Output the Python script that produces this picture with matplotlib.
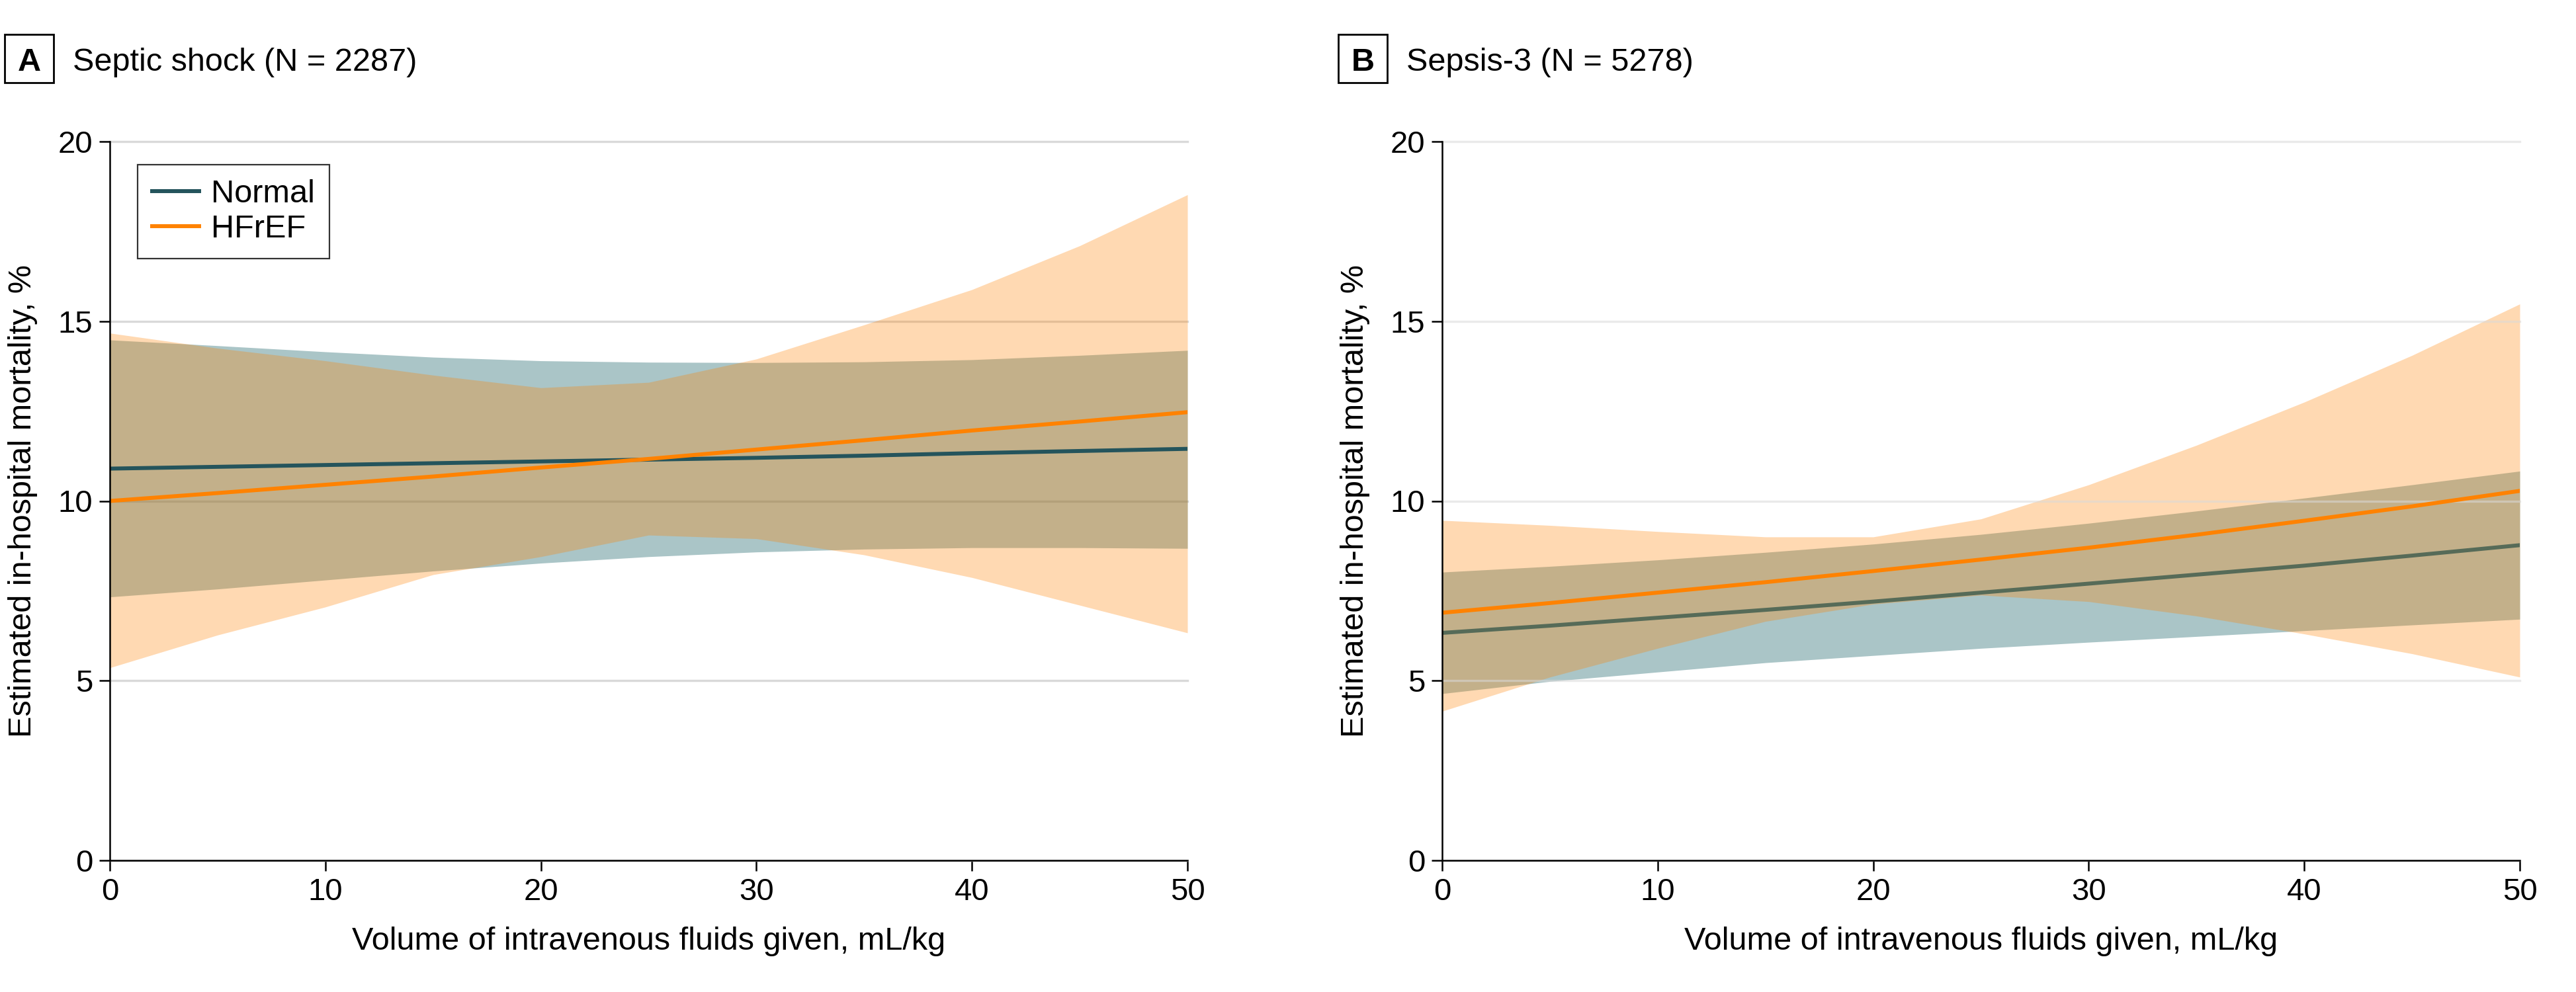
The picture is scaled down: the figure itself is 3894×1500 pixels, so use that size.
import numpy as np
import matplotlib
matplotlib.use("Agg")
import matplotlib.pyplot as plt
from matplotlib.patches import Rectangle

plt.rcParams['font.family'] = ['Liberation Sans', 'DejaVu Sans']

# fluid volume, mL/kg
volume = [0, 5, 10, 15, 20, 25, 30, 35, 40, 45, 50]

# Panel A: septic shock
normal_a = [10.9, 10.95, 11.0, 11.05, 11.1, 11.15, 11.2, 11.26, 11.33, 11.39, 11.45]
normal_a_lo = [7.33, 7.55, 7.8, 8.05, 8.27, 8.45, 8.58, 8.66, 8.7, 8.7, 8.68]
normal_a_hi = [14.48, 14.32, 14.15, 14.0, 13.9, 13.86, 13.85, 13.87, 13.93, 14.05, 14.19]
hfref_a = [10.0, 10.22, 10.45, 10.68, 10.93, 11.17, 11.43, 11.69, 11.96, 12.21, 12.47]
hfref_a_lo = [5.36, 6.27, 7.05, 7.95, 8.45, 9.05, 8.95, 8.5, 7.87, 7.1, 6.33]
hfref_a_hi = [14.67, 14.25, 13.9, 13.5, 13.15, 13.3, 13.95, 14.9, 15.88, 17.1, 18.52]

# Panel B: sepsis-3
normal_b = [6.33, 6.53, 6.75, 6.97, 7.2, 7.45, 7.7, 7.95, 8.2, 8.48, 8.77]
normal_b_lo = [4.64, 4.98, 5.24, 5.5, 5.7, 5.9, 6.07, 6.23, 6.39, 6.55, 6.71]
normal_b_hi = [8.02, 8.18, 8.36, 8.57, 8.8, 9.07, 9.38, 9.72, 10.08, 10.45, 10.83]
hfref_b = [6.89, 7.16, 7.45, 7.74, 8.05, 8.37, 8.7, 9.06, 9.45, 9.85, 10.28]
hfref_b_lo = [4.15, 5.1, 5.9, 6.65, 7.13, 7.38, 7.2, 6.8, 6.3, 5.75, 5.1]
hfref_b_hi = [9.46, 9.32, 9.15, 9.0, 9.0, 9.5, 10.45, 11.55, 12.75, 14.05, 15.48]

panel_letters = ["A", "B"]
panel_titles = ["Septic shock (N = 2287)", "Sepsis-3 (N = 5278)"]
series_labels = ["Normal", "HFrEF"]

W, H = 3894, 1500
fig = plt.figure(figsize=(W / 100, H / 100), dpi=100)

teal_line = ["#24545c", "#566b58"]
teal_band = "#2b6e73"
orange = "#ff8200"
fs = 35

panels = [
    (normal_a, normal_a_lo, normal_a_hi, hfref_a, hfref_a_lo, hfref_a_hi),
    (normal_b, normal_b_lo, normal_b_hi, hfref_b, hfref_b_lo, hfref_b_hi),
]
ax_left = [166, 2180]
box_left = [7, 2023]
title_left = [110, 2126]
grid_on_top = [False, True]

for i, (nm, nlo, nhi, hf, hlo, hhi) in enumerate(panels):
    ax = fig.add_axes([ax_left[i] / W, 1 - 1301 / H, 1629 / W, 1087 / H])
    ax.fill_between(volume, nlo, nhi, color=teal_band, alpha=0.4, lw=0, zorder=2)
    ax.fill_between(volume, hlo, hhi, color=orange, alpha=0.3, lw=0, zorder=3)
    ax.plot(volume, nm, color=teal_line[i], lw=4.3, zorder=5, label=series_labels[0])
    ax.plot(volume, hf, color=orange, lw=4.3, zorder=5, label=series_labels[1])

    ax.set_xlim(0, 50)
    ax.set_ylim(0, 20)
    ax.set_xticks(range(0, 51, 10))
    ax.set_yticks(range(0, 21, 5))
    ax.set_axisbelow(True)
    ax.yaxis.grid(True, color="#d9d9d9", lw=2.4,
                  alpha=0.55 if grid_on_top[i] else 1.0)
    if grid_on_top[i]:
        ax.yaxis.set_zorder(4)
    for gl in ax.get_ygridlines():
        gl.set_clip_on(False)
    for s in ["top", "right"]:
        ax.spines[s].set_visible(False)
    for s in ["left", "bottom"]:
        ax.spines[s].set_linewidth(1.8)
        ax.spines[s].set_zorder(6)
    ax.tick_params(axis="both", direction="out", length=11.5, width=1.8,
                   labelsize=34, pad=7)
    ax.set_xlabel("Volume of intravenous fluids given, mL/kg", fontsize=fs, labelpad=22)
    ax.set_ylabel("Estimated in-hospital mortality, %", fontsize=fs, labelpad=22)

    # panel letter box and title
    fig.add_artist(Rectangle((box_left[i] / W, 1 - 125 / H), 74 / W, 73 / H,
                             transform=fig.transFigure, fill=False,
                             ec="black", lw=2))
    fig.text((box_left[i] + 37) / W, 1 - 107 / H, panel_letters[i], fontsize=fs,
             fontweight="bold", ha="center", va="baseline")
    fig.text(title_left[i] / W, 1 - 107 / H, panel_titles[i], fontsize=fs,
             ha="left", va="baseline")

    if i == 0:
        leg = ax.legend(loc="upper left", bbox_to_anchor=(0.0258, 0.968),
                        borderaxespad=0, fontsize=fs, frameon=True, fancybox=False,
                        handlelength=1.45, handletextpad=0.37, labelspacing=0.16,
                        borderpad=0.46)
        leg.get_frame().set_edgecolor("black")
        leg.get_frame().set_linewidth(1.6)
        leg.set_zorder(10)

fig.savefig("out.png", dpi=100)
